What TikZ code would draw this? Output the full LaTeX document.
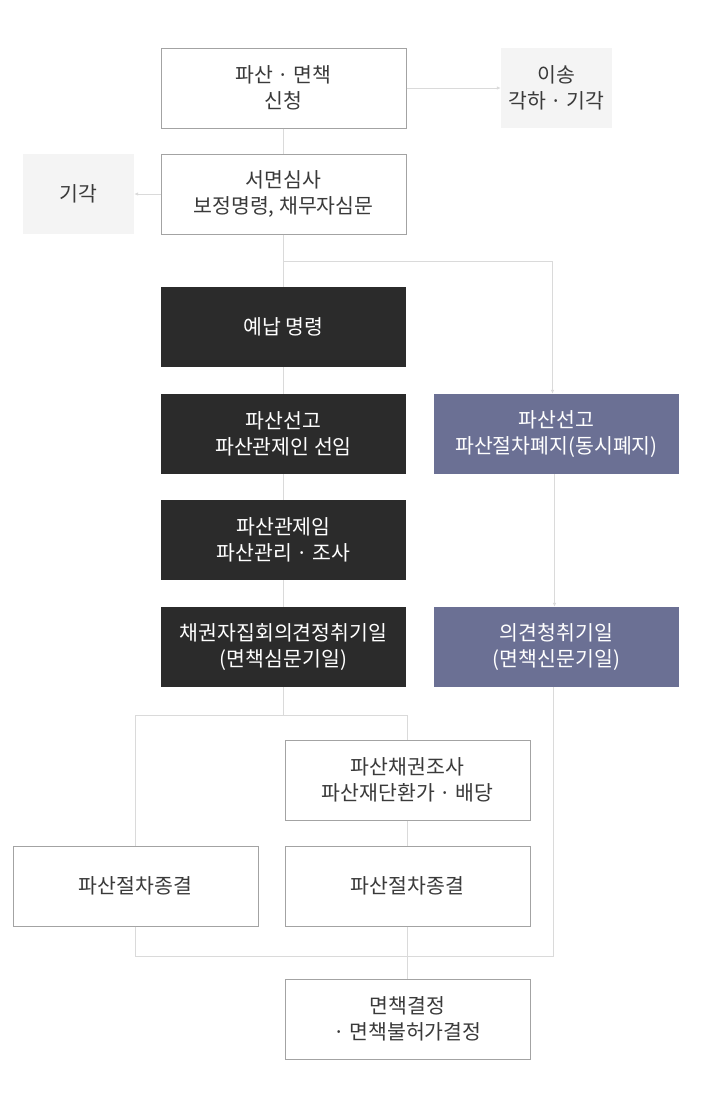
\documentclass[tikz,border=0pt]{standalone}
\usepackage{fontspec}
\setmainfont{Noto Sans CJK KR}
\usetikzlibrary{arrows.meta}
\definecolor{boxline}{HTML}{A3A3A3}
\definecolor{linegray}{HTML}{DADADA}
\definecolor{textgray}{HTML}{3A3A3A}
\definecolor{softfill}{HTML}{F4F4F4}
\definecolor{darkfill}{HTML}{2B2B2B}
\definecolor{slatefill}{HTML}{6B7094}

\begin{document}
\begin{tikzpicture}[x=1pt, y=-1pt,
     every node/.style={font=\fontsize{20.5}{26.5}\selectfont, align=center, inner sep=0pt},
     whitebox/.style={draw=boxline, line width=1pt, fill=white, text=textgray, minimum width=245, minimum height=80},
     softbox/.style={fill=softfill, text=textgray, minimum width=111, minimum height=80},
     darkbox/.style={fill=darkfill, text=white, minimum width=245, minimum height=80},
     slatebox/.style={fill=slatefill, text=white, minimum width=245, minimum height=80},
     conn/.style={draw=linegray, line width=1pt},
     arr/.style={conn, -{Latex[length=4pt,width=3.5pt]}}]

   \useasboundingbox (0,0) rectangle (722,1104);

   % upper part
   \node[whitebox] (apply) at (283.5,88) {파산 · 면책\\신청};
   \node[softbox] (transfer) at (556.5,88) {이송\\각하 · 기각};
   \node[whitebox] (review) at (283.5,194) {서면심사\\보정명령, 채무자심문};
   \node[softbox] (reject) at (78.5,194) {기각};

   % main column
   \node[darkbox] (deposit) at (283.5,327) {예납 명령};
   \node[darkbox] (declare) at (283.5,434) {파산선고\\파산관제인 선임};
   \node[darkbox] (trustee) at (283.5,540) {파산관제임\\파산관리 · 조사};
   \node[darkbox] (meeting) at (283.5,647) {채권자집회의견정취기일\\(면책심문기일)};

   % right column
   \node[slatebox] (rdeclare) at (556.5,434) {파산선고\\파산절차폐지(동시폐지)};
   \node[slatebox] (ropinion) at (556.5,647) {의견청취기일\\(면책신문기일)};

   % lower part
   \node[whitebox] (claims) at (407.5,780) {파산채권조사\\파산재단환가 · 배당};
   \node[whitebox] (lend) at (135.5,886) {파산절차종결};
   \node[whitebox] (rend) at (407.5,886) {파산절차종결};
   \node[whitebox] (discharge) at (407.5,1019) {면책결정\\ · 면책불허가결정};

   \coordinate (split) at (283.5,261);
   \coordinate (fork) at (283.5,715);
   \coordinate (join) at (407.5,956);

   \draw[arr] (apply) -- (transfer);
   \draw[conn] (apply) -- (review);
   \draw[arr] (review) -- (reject);
   \draw[conn] (review) -- (deposit);
   \draw[arr] (split) -| ([xshift=-4]rdeclare.north);
   \draw[conn] (deposit) -- (declare);
   \draw[conn] (declare) -- (trustee);
   \draw[conn] (trustee) -- (meeting);
   \draw[arr] ([xshift=-2]rdeclare.south) -- ([xshift=-2]ropinion.north);
   \draw[conn] (meeting) -- (fork);
   \draw[conn] (fork) -| (lend.north);
   \draw[conn] (fork) -| (claims.north);
   \draw[conn] (claims) -- (rend);
   \draw[conn] (lend.south) |- (join);
   \draw[conn] ([xshift=-3]ropinion.south) |- (join);
   \draw[conn] (rend) -- (discharge);
\end{tikzpicture}
\end{document}
